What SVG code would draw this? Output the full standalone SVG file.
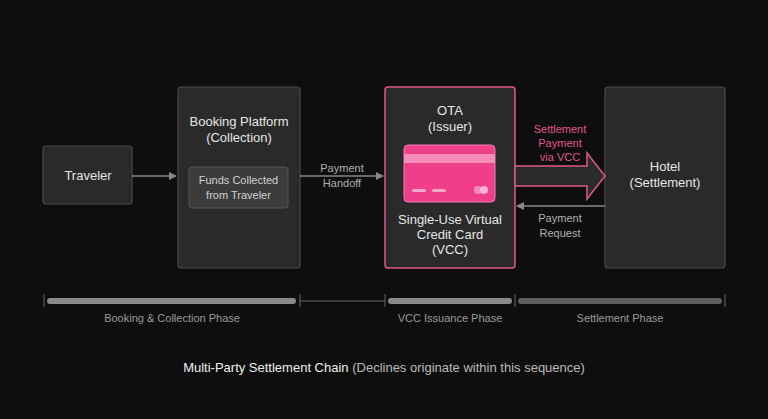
<svg xmlns="http://www.w3.org/2000/svg" width="768" height="419" viewBox="0 0 768 419">
<style>
text{font-family:"Liberation Sans",Arial,sans-serif;fill:#e6e6e6;text-anchor:middle}
.box{fill:#2a2a2a;stroke:#4a4a4a;stroke-width:1.2}
.lbl{font-size:11px;fill:#b0b0b0}
.t{font-size:13px}
.tick{stroke:#666;stroke-width:1}
</style>
<defs>
<marker id="ah" markerWidth="8" markerHeight="8" refX="7" refY="4" orient="auto" markerUnits="userSpaceOnUse"><path d="M0,0 L8,4 L0,8 Z" fill="#888"/></marker>
</defs>
<rect width="768" height="419" fill="#0e0e0e"/>
<g id="traveler"><rect class="box" x="43" y="146" width="89" height="58" rx="3"/><text class="t" x="88" y="180">Traveler</text></g>
<g id="booking"><rect class="box" x="178" y="87" width="122" height="181" rx="3"/>
<text class="t" x="239" y="126">Booking Platform</text><text class="t" x="239" y="142">(Collection)</text>
<rect x="189" y="167" width="99" height="41" rx="3" fill="#3c3c3c" stroke="#555"/>
<text class="lbl" x="238.5" y="184" style="fill:#d0d0d0">Funds Collected</text><text class="lbl" x="238.5" y="199" style="fill:#d0d0d0">from Traveler</text></g>
<g id="ota"><rect x="385" y="87" width="130" height="181" rx="3" fill="#2a2a2a" stroke="#e0578f" stroke-width="1.5"/>
<text class="t" x="450" y="115">OTA</text><text class="t" x="450" y="131">(Issuer)</text>
<rect x="404" y="145" width="91" height="57" rx="4" fill="#ef3f8a" stroke="#f77eb1"/>
<rect x="404" y="154" width="91" height="9" fill="#f88cb9"/>
<rect x="412" y="189" width="14" height="3" rx="1.5" fill="#f9a6c8"/><rect x="432" y="189" width="14" height="3" rx="1.5" fill="#f9a6c8"/>
<circle cx="478" cy="190" r="4" fill="#f78bb8"/><circle cx="484" cy="190" r="4" fill="#fbb6d2"/>
<text class="t" x="450" y="224">Single-Use Virtual</text><text class="t" x="450" y="239">Credit Card</text><text class="t" x="450" y="254">(VCC)</text></g>
<g id="hotel"><rect class="box" x="605" y="87" width="120" height="181" rx="3"/>
<text class="t" x="665" y="171">Hotel</text><text class="t" x="665" y="187">(Settlement)</text></g>
<g id="connectors">
<line x1="132" y1="176" x2="176" y2="176" stroke="#888" stroke-width="1.3" marker-end="url(#ah)"/>
<line x1="300" y1="176" x2="383" y2="176" stroke="#888" stroke-width="1.3" marker-end="url(#ah)"/>
<text class="lbl" x="342" y="172">Payment</text><text class="lbl" x="342" y="187">Handoff</text>
<path d="M515,166 L587,166 L587,153 L605,176 L587,199 L587,186 L515,186 Z" fill="#2a2a2a" stroke="#e0578f" stroke-width="1.5"/>
<text class="lbl" x="560" y="133" style="fill:#e0578f">Settlement</text><text class="lbl" x="560" y="147" style="fill:#e0578f">Payment</text><text class="lbl" x="560" y="161" style="fill:#e0578f">via VCC</text>
<line x1="605" y1="206" x2="517" y2="206" stroke="#888" stroke-width="1.3" marker-end="url(#ah)"/>
<text class="lbl" x="560" y="222">Payment</text><text class="lbl" x="560" y="237">Request</text>
</g>
<g id="timeline">
<line class="tick" x1="44" y1="294" x2="44" y2="307"/><line class="tick" x1="300" y1="294" x2="300" y2="307"/><line class="tick" x1="385" y1="294" x2="385" y2="307"/><line class="tick" x1="515" y1="294" x2="515" y2="307"/><line class="tick" x1="725" y1="294" x2="725" y2="307"/>
<rect x="47" y="298" width="249" height="6" rx="3" fill="#8a8a8a"/>
<line x1="300" y1="301" x2="385" y2="301" stroke="#666"/>
<rect x="388" y="298" width="124" height="6" rx="3" fill="#8a8a8a"/>
<rect x="518" y="298" width="204" height="6" rx="3" fill="#5e5e5e"/>
<text class="lbl" x="172" y="322" style="fill:#9a9a9a">Booking &amp; Collection Phase</text>
<text class="lbl" x="450" y="322" style="fill:#9a9a9a">VCC Issuance Phase</text>
<text class="lbl" x="620" y="322" style="fill:#9a9a9a">Settlement Phase</text>
</g>
<text x="384" y="372" style="font-size:13px"><tspan fill="#eee">Multi-Party Settlement Chain</tspan><tspan fill="#bbb"> (Declines originate within this sequence)</tspan></text>
</svg>
